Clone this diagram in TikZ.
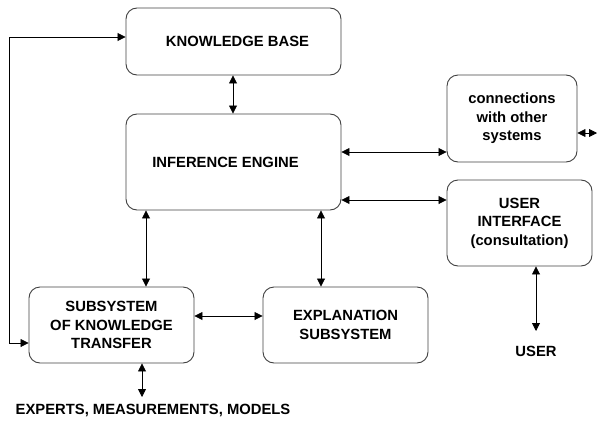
\documentclass[tikz,border=0pt]{standalone}
\usepackage{fontspec}
\setmainfont{Liberation Sans}
\usetikzlibrary{arrows.meta}
\begin{document}
\begin{tikzpicture}[x=1pt,y=-1pt,
  box/.style={draw=black!75,line width=0.9pt,rounded corners=11pt,inner sep=0pt,align=center,
    font=\fontsize{14.8}{18.5}\selectfont\bfseries},
  lbl/.style={inner sep=0pt,align=center,font=\fontsize{14.8}{18.5}\selectfont\bfseries},
  conn/.style={line width=0.8pt,{Triangle[length=8pt,width=8pt]}-{Triangle[length=8pt,width=8pt]}},
  one/.style={line width=0.8pt,-{Triangle[length=8pt,width=8pt]}}]
\useasboundingbox (0,0) rectangle (599,423);
\node[box,minimum width=215pt,minimum height=67pt] (kb) at (233.5,41.5) {\hspace*{8pt}KNOWLEDGE BASE};
\node[box,minimum width=215pt,minimum height=96pt] (ie) at (233.5,162) {\hspace*{-16pt}INFERENCE ENGINE};
\node[box,minimum width=130pt,minimum height=87pt] (cs) at (512,118.5) {connections\\with other\\systems};
\node[box,minimum width=145pt,minimum height=86pt] (ui) at (519.5,223) {USER\\INTERFACE\\(consultation)};
\node[box,minimum width=165pt,minimum height=76pt] (st) at (111.5,325) {SUBSYSTEM\\OF KNOWLEDGE\\TRANSFER};
\node[box,minimum width=165pt,minimum height=76pt] (ex) at (345.5,325) {EXPLANATION\\SUBSYSTEM};
\node[lbl] (user) at (536,351) {USER};
\node[lbl] (exp) at (153,410) {EXPERTS, MEASUREMENTS, MODELS};
\coordinate (rt) at (597,133);
\coordinate (ut) at (536,331);
\coordinate (et) at (142,397);
\coordinate (lp) at (9,37);
\draw[conn] (kb.south -| 233,0) -- (ie.north -| 233,0);
\draw[conn] (ie.east |- 0,152) -- (cs.west |- 0,152);
\draw[conn] (ie.east |- 0,200) -- (ui.west |- 0,200);
\draw[conn] (cs.east |- rt) -- (rt);
\draw[conn] (ui.south -| ut) -- (ut);
\draw[conn] (ie.south -| 146,0) -- (st.north -| 146,0);
\draw[conn] (ie.south -| 321,0) -- (ex.north -| 321,0);
\draw[conn] (st.east |- 0,316) -- (ex.west |- 0,316);
\draw[conn] (st.south -| et) -- (et);
\draw[conn] (st.west |- 0,343) -- (lp |- 0,343) -- (lp) -- (kb.west |- lp);
\end{tikzpicture}
\end{document}
